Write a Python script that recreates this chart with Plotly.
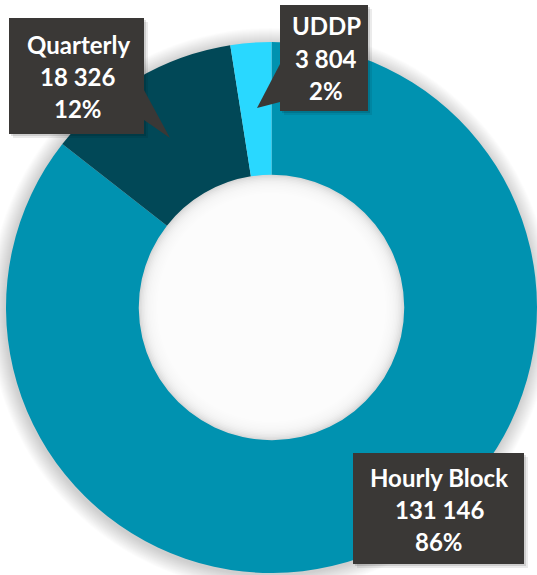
import plotly.graph_objects as go

# ---- data ----
categories = ["Hourly Block", "Quarterly", "UDDP"]
values = [131146, 18326, 3804]
colors = ["#0092B0", "#014857", "#29D8FF"]

total = sum(values)
value_labels = [f"{v:,}".replace(",", " ") for v in values]
pct_labels = [f"{round(v / total * 100)}%" for v in values]

# ---- layout geometry (pixels) ----
W, H = 537, 575
ML, MR, MT, MB = 6, 0, 42, 2
PW = W - ML - MR
PH = H - MT - MB


def px(x):
    return (x - ML) / PW


def py(y):
    return 1 - (y - MT) / PH


fig = go.Figure(
    go.Pie(
        labels=categories,
        values=values,
        hole=0.5,
        sort=False,
        direction="clockwise",
        rotation=0,
        marker=dict(colors=colors, line=dict(width=0)),
        textinfo="none",
        hoverinfo="label+value+percent",
        showlegend=False,
    )
)

shapes = []
u = 1 / PW
R = 0.5
RH = 0.25
# soft outer shadow
dx, dy = -1 * u, -2 * u
for k in range(16, 0, -1):
    r = R + k * u
    shapes.append(dict(type="circle", xref="paper", yref="paper", layer="below",
                       x0=0.5 - r + dx, x1=0.5 + r + dx, y0=0.5 - r + dy, y1=0.5 + r + dy,
                       fillcolor="rgba(0,0,0,0.011)", line=dict(width=0)))
# inner shadow in the hole
for j in range(14):
    r = RH - j * 1.5 * u
    shapes.append(dict(type="circle", xref="paper", yref="paper", layer="below",
                       x0=0.5 - r, x1=0.5 + r, y0=0.5 - r, y1=0.5 + r,
                       fillcolor="rgba(255,255,255,0.22)", line=dict(width=0)))

# label boxes: (category index) -> box px, text center x, baselines, pointer
label_boxes = {
    0: dict(box=(353, 453, 524, 564), cx=439, base=(486, 518, 550), ptr=None),
    1: dict(box=(9, 18, 144, 134), cx=78, base=(53, 85, 117),
            ptr=[(144, 90), (170, 138), (144, 120)]),
    2: dict(box=(280, 5, 368, 111), cx=326, base=(34, 67, 99),
            ptr=[(280, 64), (257, 108), (280, 102)]),
}
BOX = "#3A3836"
annotations = []
for i, spec in label_boxes.items():
    x0, y0, x1, y1 = spec["box"]
    for off, a in ((4, 0.08), (2, 0.12)):
        shapes.append(dict(type="rect", xref="paper", yref="paper", layer="above",
                           x0=px(x0 + off), x1=px(x1 + off), y0=py(y1 + off), y1=py(y0 + off),
                           fillcolor=f"rgba(0,0,0,{a})", line=dict(width=0)))
    shapes.append(dict(type="rect", xref="paper", yref="paper", layer="above",
                       x0=px(x0), x1=px(x1), y0=py(y1), y1=py(y0),
                       fillcolor=BOX, line=dict(width=0)))
    if spec["ptr"]:
        pts = spec["ptr"]
        path = "M " + " L ".join(f"{px(a)},{py(b)}" for a, b in pts) + " Z"
        shapes.append(dict(type="path", xref="paper", yref="paper", layer="above",
                           path=path, fillcolor=BOX, line=dict(width=0)))
    lines = [categories[i], value_labels[i], pct_labels[i]]
    for t, b in zip(lines, spec["base"]):
        annotations.append(dict(text=f"<b>{t}</b>", xref="paper", yref="paper",
                                x=px(spec["cx"]), y=py(b - 8.5), xanchor="center", yanchor="middle",
                                showarrow=False, font=dict(family="Lato", size=24, color="white")))

fig.update_layout(
    width=W, height=H,
    margin=dict(l=ML, r=MR, t=MT, b=MB),
    paper_bgcolor="white",
    plot_bgcolor="white",
    shapes=shapes,
    annotations=annotations,
    showlegend=False,
)

fig.write_html(
    "out.html",
    config={"displayModeBar": False},
    post_script="document.body.style.margin='0';document.body.style.overflow='hidden';",
)
